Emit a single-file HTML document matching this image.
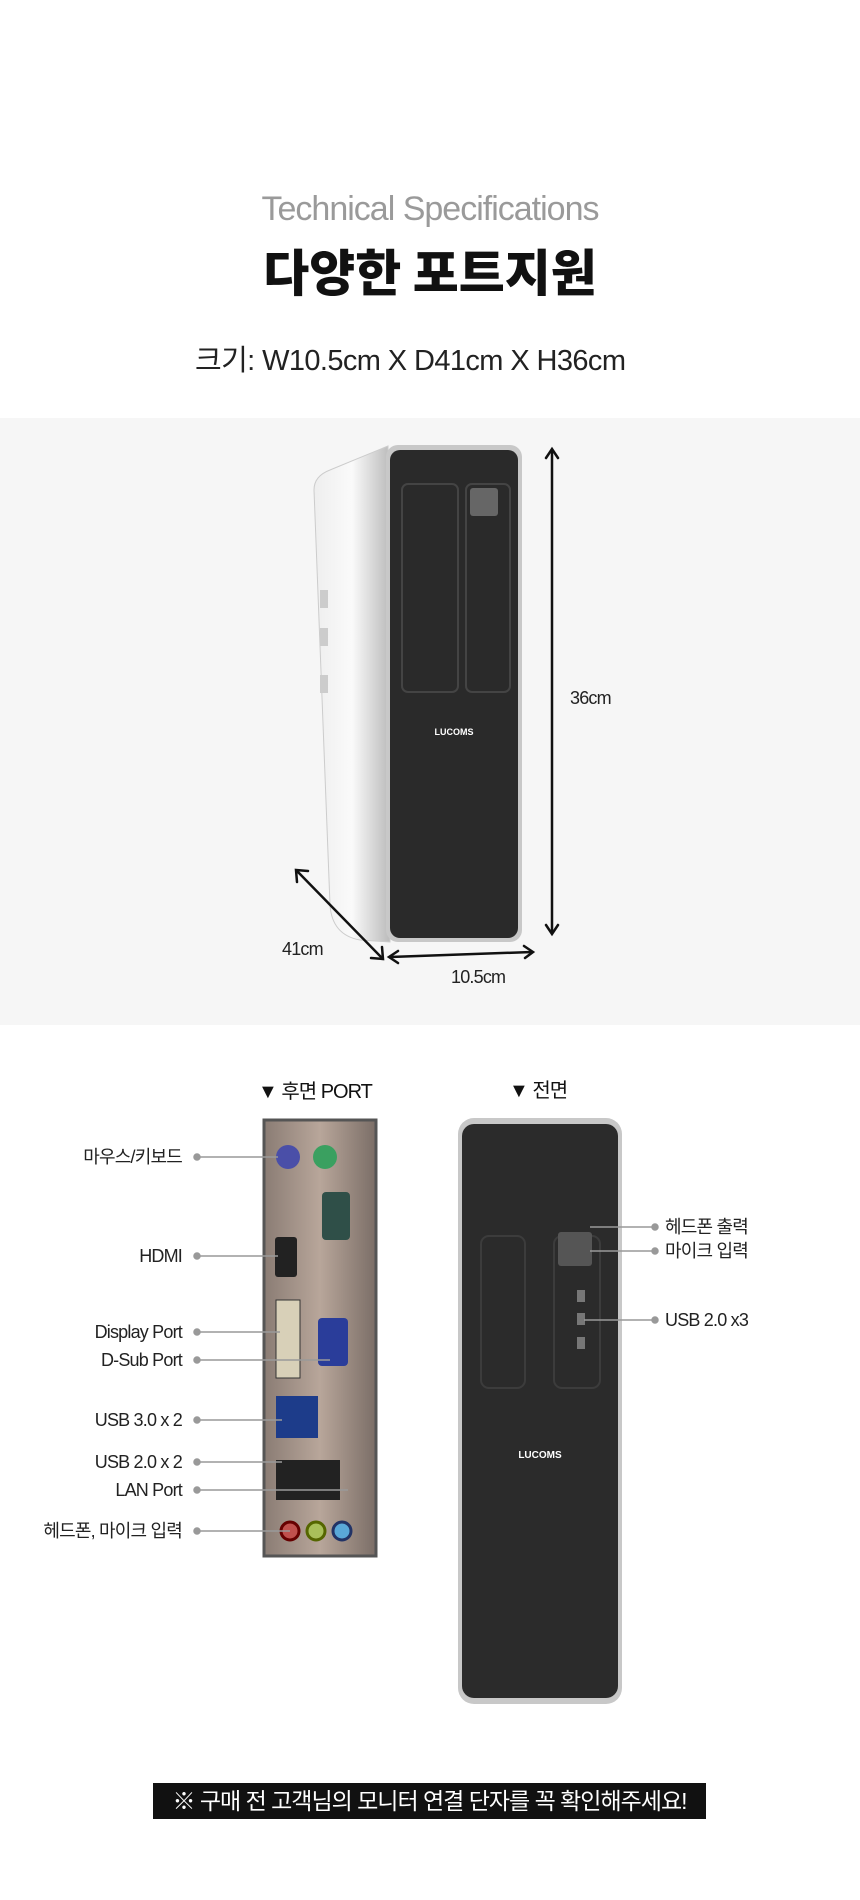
<!DOCTYPE html>
<html><head><meta charset="utf-8"><style>
*{margin:0;padding:0;box-sizing:border-box}
body{width:860px;height:1900px;background:#fff;position:relative;overflow:hidden;font-family:"Liberation Sans","Noto Sans CJK KR",sans-serif;color:#111}
.a{position:absolute;white-space:nowrap}
.lbl{position:absolute;font-size:18px;color:#222;letter-spacing:-0.8px;line-height:22px}
.r{text-align:right;width:170px;left:12px}
</style></head><body>
<div class="a" style="top:190px;left:0;width:860px;text-align:center;font-size:34px;color:#9a9a9a;letter-spacing:-1px">Technical Specifications</div>
<div class="a" style="top:234px;left:0;width:860px;text-align:center;font-size:50px;font-weight:900;letter-spacing:0px;font-family:'Noto Sans CJK KR',sans-serif">다양한 포트지원</div>
<div class="a" style="top:337px;left:195px;font-size:29px;color:#222;letter-spacing:-0.6px">크기: W10.5cm X D41cm X H36cm</div>

<div class="a" style="top:418px;left:0;width:860px;height:607px;background:#f6f6f6"></div>
<svg class="a" style="top:0;left:0" width="860" height="1900">
<defs>
<linearGradient id="side" x1="0" x2="1"><stop offset="0" stop-color="#eee"/><stop offset="0.5" stop-color="#fafafa"/><stop offset="1" stop-color="#bbb"/></linearGradient>
<linearGradient id="plate" x1="0" x2="1"><stop offset="0" stop-color="#8a7c74"/><stop offset="0.5" stop-color="#b8a69a"/><stop offset="1" stop-color="#7b6e67"/></linearGradient>
</defs>
<path d="M388 446 L330 470 Q314 476 314 490 L330 905 Q332 935 360 940 L390 942 Z" fill="url(#side)" stroke="#ccc"/>
<rect x="386" y="445" width="136" height="497" rx="12" fill="#c8c8c8"/>
<rect x="390" y="450" width="128" height="488" rx="10" fill="#2a2a2a"/>
<rect x="402" y="484" width="56" height="208" rx="6" fill="none" stroke="#444" stroke-width="2"/>
<rect x="466" y="484" width="44" height="208" rx="6" fill="none" stroke="#444" stroke-width="2"/>
<rect x="470" y="488" width="28" height="28" rx="3" fill="#666"/>
<text x="454" y="735" font-size="9" font-weight="bold" fill="#fff" text-anchor="middle" font-family="Liberation Sans">LUCOMS</text>
<rect x="320" y="590" width="8" height="18" fill="#ccc"/><rect x="320" y="628" width="8" height="18" fill="#ccc"/><rect x="320" y="675" width="8" height="18" fill="#ccc"/>
<g stroke="#111" stroke-width="2.5" fill="none" stroke-linecap="round">
<line x1="552" y1="450" x2="552" y2="933"/><path d="M546 458 L552 449 L558 458"/><path d="M546 925 L552 934 L558 925"/>
<line x1="297" y1="871" x2="382" y2="958"/><path d="M297 882 L296 870 L308 871"/><path d="M371 958 L383 959 L382 947"/>
<line x1="390" y1="957" x2="532" y2="952"/><path d="M398 951 L389 957 L398 963"/><path d="M524 946 L533 952 L525 958"/>
</g>
<rect x="264" y="1120" width="112" height="436" fill="url(#plate)" stroke="#555" stroke-width="3"/>
<circle cx="288" cy="1157" r="12" fill="#4a4fa8"/><circle cx="325" cy="1157" r="12" fill="#3aa060"/>
<rect x="322" y="1192" width="28" height="48" rx="4" fill="#2f4f48"/>
<rect x="275" y="1237" width="22" height="40" rx="3" fill="#222"/>
<rect x="276" y="1300" width="24" height="78" fill="#d8d0b8" stroke="#333"/>
<rect x="318" y="1318" width="30" height="48" rx="4" fill="#2a3d9a"/>
<rect x="276" y="1396" width="42" height="42" fill="#1d3c8a"/>
<rect x="276" y="1460" width="64" height="40" fill="#222"/>
<circle cx="290" cy="1531" r="9" fill="#c0504d" stroke="#600" stroke-width="3"/>
<circle cx="316" cy="1531" r="9" fill="#a9c05a" stroke="#560" stroke-width="3"/>
<circle cx="342" cy="1531" r="9" fill="#5aa8d8" stroke="#236" stroke-width="3"/>
<rect x="458" y="1118" width="164" height="586" rx="16" fill="#c8c8c8"/>
<rect x="462" y="1124" width="156" height="574" rx="12" fill="#2b2b2b"/>
<rect x="481" y="1236" width="44" height="152" rx="8" fill="none" stroke="#3c3c3c" stroke-width="2"/>
<rect x="554" y="1236" width="46" height="152" rx="8" fill="none" stroke="#3c3c3c" stroke-width="2"/>
<rect x="558" y="1232" width="34" height="34" rx="3" fill="#555"/>
<text x="540" y="1458" font-size="10" font-weight="bold" fill="#fff" text-anchor="middle" font-family="Liberation Sans">LUCOMS</text>
<g fill="#777"><rect x="577" y="1290" width="8" height="12"/><rect x="577" y="1313" width="8" height="12"/><rect x="577" y="1337" width="8" height="12"/></g>
<g stroke="#999" stroke-width="1.5" fill="#999">
<line x1="197" y1="1157" x2="278" y2="1157"/><circle cx="197" cy="1157" r="3"/>
<line x1="197" y1="1256" x2="278" y2="1256"/><circle cx="197" cy="1256" r="3"/>
<line x1="197" y1="1332" x2="280" y2="1332"/><circle cx="197" cy="1332" r="3"/>
<line x1="197" y1="1360" x2="330" y2="1360"/><circle cx="197" cy="1360" r="3"/>
<line x1="197" y1="1420" x2="282" y2="1420"/><circle cx="197" cy="1420" r="3"/>
<line x1="197" y1="1462" x2="282" y2="1462"/><circle cx="197" cy="1462" r="3"/>
<line x1="197" y1="1490" x2="348" y2="1490"/><circle cx="197" cy="1490" r="3"/>
<line x1="197" y1="1531" x2="290" y2="1531"/><circle cx="197" cy="1531" r="3"/>
<line x1="590" y1="1227" x2="655" y2="1227"/><circle cx="655" cy="1227" r="3"/>
<line x1="590" y1="1251" x2="655" y2="1251"/><circle cx="655" cy="1251" r="3"/>
<line x1="584" y1="1320" x2="655" y2="1320"/><circle cx="655" cy="1320" r="3"/>
</g>
</svg>
<div class="lbl" style="top:687px;left:570px">36cm</div>
<div class="lbl" style="top:938px;left:282px">41cm</div>
<div class="lbl" style="top:966px;left:451px">10.5cm</div>

<div class="a" style="top:1075px;left:258px;font-size:20px;letter-spacing:-1px">▼ 후면 PORT</div>
<div class="a" style="top:1074px;left:509px;font-size:20px;letter-spacing:-1px">▼ 전면</div>

<div class="lbl r" style="top:1146px">마우스/키보드</div>
<div class="lbl r" style="top:1245px">HDMI</div>
<div class="lbl r" style="top:1321px">Display Port</div>
<div class="lbl r" style="top:1349px">D-Sub Port</div>
<div class="lbl r" style="top:1409px">USB 3.0 x 2</div>
<div class="lbl r" style="top:1451px">USB 2.0 x 2</div>
<div class="lbl r" style="top:1479px">LAN Port</div>
<div class="lbl r" style="top:1520px">헤드폰, 마이크 입력</div>
<div class="lbl" style="top:1216px;left:665px">헤드폰 출력</div>
<div class="lbl" style="top:1240px;left:665px">마이크 입력</div>
<div class="lbl" style="top:1309px;left:665px">USB 2.0 x3</div>

<div class="a" style="top:1783px;left:153px;width:553px;height:36px;background:#111;color:#fff;font-size:23px;text-align:center;line-height:36px;letter-spacing:-1px">※ 구매 전 고객님의 모니터 연결 단자를 꼭 확인해주세요!</div>
</body></html>
